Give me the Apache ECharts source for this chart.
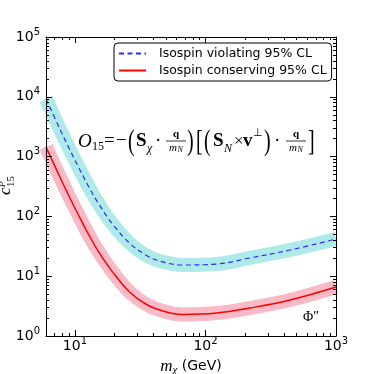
<!DOCTYPE html>
<html>
<head>
<meta charset="utf-8">
<script src="https://cdn.jsdelivr.net/npm/echarts@6/dist/echarts.min.js"></script>
<style>
html, body { margin: 0; padding: 0; background: #fff; }
#chart { width: 374px; height: 374px; }
</style>
</head>
<body>
<div id="chart"></div>
<script>
// dark matter mass (GeV) and 95% CL limits on c15^p
var massViolating = [6, 7.6, 9.07, 10.45, 12.9, 15.4, 19.4, 26.2, 34.8, 44.6, 67, 122, 219, 444, 1000];
var limitViolating = [9200, 3010, 1340, 724, 298, 155, 74.6, 35.9, 22.6, 17.9, 15.4, 16.0, 20.2, 27.4, 41.9];

var massConserving = [6, 7.6, 9.07, 10.45, 12.9, 15.4, 19.4, 26.2, 34.8, 44.6, 67, 122, 219, 444, 1000];
var limitConserving = [1450, 474, 211, 114, 47, 24.4, 11.8, 5.44, 3.43, 2.72, 2.29, 2.42, 2.94, 4.0, 6.6];

var xMajorTicks = [10, 100, 1000];
var xMinorTicks = [6, 7, 8, 9, 20, 30, 40, 50, 60, 70, 80, 90, 200, 300, 400, 500, 600, 700, 800, 900];
var yMajorTicks = [1, 10, 100, 1000, 10000, 100000];
var yMinorTicks = [2, 3, 4, 5, 6, 7, 8, 9,
  20, 30, 40, 50, 60, 70, 80, 90,
  200, 300, 400, 500, 600, 700, 800, 900,
  2000, 3000, 4000, 5000, 6000, 7000, 8000, 9000,
  20000, 30000, 40000, 50000, 60000, 70000, 80000, 90000];

var nameViolating = 'Isospin violating 95% CL';
var nameConserving = 'Isospin conserving 95% CL';

var chart = echarts.init(document.getElementById('chart'));

var sans = 'DejaVu Sans';
var serif = 'Liberation Serif';

var powRich = {
  b: { fontFamily: sans, fontSize: 14, lineHeight: 20, color: '#000' },
  s: { fontFamily: sans, fontSize: 10, lineHeight: 10, verticalAlign: 'top', color: '#000' }
};
function powLabel(v) {
  return '{b|10}{s|' + Math.round(Math.log10(v)) + '}';
}

function zip(xs, ys) {
  return xs.map(function (x, i) { return [x, ys[i]]; });
}

function logAxis(dim, position, ticks, len, main) {
  return {
    type: 'log',
    logBase: 10,
    position: position,
    min: dim === 'x' ? 6 : 1,
    max: dim === 'x' ? 1000 : 100000,
    axisLine: { show: main, onZero: false, lineStyle: { color: '#000', width: 1 } },
    axisTick: { show: true, inside: true, length: len, customValues: ticks, lineStyle: { color: '#000', width: 1 } },
    axisLabel: { show: false },
    splitLine: { show: false },
    minorTick: { show: false },
    z: 5
  };
}

var xAxes = [
  logAxis('x', 'bottom', xMajorTicks, 6, true),
  logAxis('x', 'bottom', xMinorTicks, 3, false),
  logAxis('x', 'top', xMajorTicks, 6, true),
  logAxis('x', 'top', xMinorTicks, 3, false)
];
xAxes[0].axisLabel = { show: true, customValues: xMajorTicks, margin: 0, formatter: powLabel, rich: powRich };
xAxes[0].name = '{m|m}{c|χ}{t| (GeV)}';
xAxes[0].nameLocation = 'middle';
xAxes[0].nameGap = 15;
xAxes[0].nameTextStyle = {
  rich: {
    m: { fontFamily: serif, fontStyle: 'italic', fontSize: 17, lineHeight: 18, color: '#000' },
    c: { fontFamily: serif, fontStyle: 'italic', fontSize: 11, lineHeight: 12, verticalAlign: 'bottom', color: '#000' },
    t: { fontFamily: sans, fontSize: 14, lineHeight: 18, color: '#000' }
  }
};

var yAxes = [
  logAxis('y', 'left', yMajorTicks, 6, true),
  logAxis('y', 'left', yMinorTicks, 3, false),
  logAxis('y', 'right', yMajorTicks, 6, true),
  logAxis('y', 'right', yMinorTicks, 3, false)
];
yAxes[0].axisLabel = { show: true, customValues: yMajorTicks, margin: 6, formatter: powLabel, rich: powRich };

// formula pieces
function tx(text, x, y, size, style, extra) {
  var el = {
    type: 'text', x: x, y: y, z: 20,
    style: {
      text: text,
      font: (style || '') + ' ' + size + 'px "' + serif + '"',
      fill: '#000',
      align: 'left',
      verticalAlign: 'middle'
    }
  };
  if (extra) for (var k in extra) el.style[k] = extra[k];
  return el;
}
// tall thin delimiter
function delim(ch, x) {
  var el = tx(ch, x, 142, 20);
  el.scaleY = 1.45;
  return el;
}
function frac(cx) {
  return [
    tx('q', cx, 134, 11, 'bold', { align: 'center' }),
    { type: 'line', z: 20, shape: { x1: cx - 10, y1: 141, x2: cx + 10, y2: 141 }, style: { stroke: '#000', lineWidth: 0.8 } },
    tx('m', cx - 7, 148, 11, 'italic'),
    tx('N', cx + 1.5, 150, 8, 'italic')
  ];
}
var mainY = 141.5;
var formula = [
  tx('O', 78, mainY, 19, 'italic'),
  tx('15', 92, 147, 12),
  tx('=', 104, mainY, 19),
  tx('\u2212', 116, mainY, 19),
  delim('(', 128),
  tx('S', 136, mainY, 19, 'bold'),
  tx('\u03c7', 147, 149, 12, 'italic'),
  tx('\u00b7', 155, mainY, 19)
].concat(frac(176)).concat([
  delim(')', 187),
  delim('[', 196),
  delim('(', 204),
  tx('S', 213, mainY, 19, 'bold'),
  tx('N', 224, 149, 12, 'italic'),
  tx('\u00d7', 234, mainY, 17),
  tx('v', 243, mainY, 19, 'bold'),
  tx('\u22a5', 253, 133, 11),
  delim(')', 264),
  tx('\u00b7', 274, mainY, 19)
]).concat(frac(296)).concat([
  delim(']', 308),
  tx('\u03a6\u2033', 303, 317, 14)
]);

var yName = {
  type: 'group', x: 6, y: 195, rotation: Math.PI / 2,
  children: [
    tx('c', 0, 0, 17, 'italic'),
    tx('15', 8, 5, 11),
    tx('p', 8.5, -6, 11, 'italic')
  ]
};

var option = {
  animation: false,
  backgroundColor: '#fff',
  grid: { left: 46, top: 37, width: 290, height: 299, containLabel: false, outerBoundsMode: 'none' },
  xAxis: xAxes,
  yAxis: yAxes,
  legend: {
    data: [nameViolating, nameConserving],
    orient: 'vertical',
    left: 114,
    top: 43,
    padding: [4, 5, 4, 4],
    itemGap: 4,
    itemWidth: 27,
    itemHeight: 14,
    borderColor: '#000',
    borderWidth: 1,
    borderRadius: 4,
    backgroundColor: '#fff',
    itemStyle: { opacity: 0 },
    textStyle: { fontFamily: sans, fontSize: 12.5, color: '#000', padding: [0, 0, 0, 8] }
  },
  graphic: formula.concat([yName]),
  series: [
    {
      name: 'violating band', type: 'line', data: zip(massViolating, limitViolating),
      symbol: 'none', smooth: 0.4, silent: true, z: 1,
      lineStyle: { color: '#aeeaea', width: 14, cap: 'butt' }
    },
    {
      name: 'conserving band', type: 'line', data: zip(massConserving, limitConserving),
      symbol: 'none', smooth: 0.4, silent: true, z: 1,
      lineStyle: { color: '#f9bac7', width: 14, cap: 'butt' }
    },
    {
      name: nameViolating, type: 'line', data: zip(massViolating, limitViolating),
      symbol: 'none', smooth: 0.4, z: 3, color: '#2a2aff',
      lineStyle: { color: '#2a2aff', width: 1.2, type: [5, 3.5] }
    },
    {
      name: nameConserving, type: 'line', data: zip(massConserving, limitConserving),
      symbol: 'none', smooth: 0.4, z: 3, color: '#ff0000',
      lineStyle: { color: '#ff0000', width: 1.5 }
    }
  ]
};
chart.setOption(option);
</script>
</body>
</html>
